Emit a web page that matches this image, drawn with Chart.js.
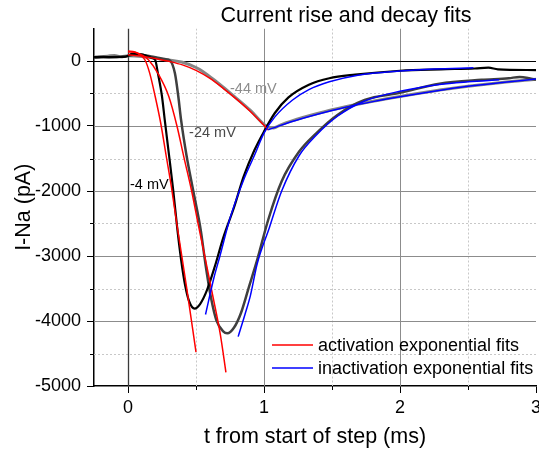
<!DOCTYPE html>
<html>
<head>
<meta charset="utf-8">
<title>Current rise and decay fits</title>
<script src="https://cdn.jsdelivr.net/npm/chart.js@4.4.1/dist/chart.umd.min.js"></script>
<style>
  html, body { margin: 0; padding: 0; background: #fff; }
  canvas { display: block; }
</style>
</head>
<body>
<canvas id="chart" width="539" height="456"></canvas>
<script>
// recorded currents (t in ms, I in pA)
const tTraceM4 = [-0.25, -0.18, -0.1, -0.03, 0, 0.03, 0.08, 0.13, 0.17, 0.2, 0.22, 0.25, 0.27, 0.3, 0.333, 0.363, 0.39, 0.42, 0.45, 0.49, 0.53, 0.58, 0.64, 0.7, 0.78, 0.85, 0.93, 1.0, 1.08, 1.18, 1.33, 1.48, 1.67, 2.0, 2.3, 2.55, 2.65, 2.72, 3.0];
const iTraceM4 = [60, 62, 60, 62, 80, 110, 105, 85, 50, 15, -190, -546, -903, -1420, -2000, -2590, -3050, -3450, -3700, -3810, -3740, -3530, -3150, -2720, -2250, -1780, -1370, -1085, -800, -560, -365, -265, -210, -150, -128, -115, -102, -128, -140];

const tTraceM24 = [-0.25, -0.1, 0, 0.05, 0.1, 0.17, 0.23, 0.27, 0.31, 0.345, 0.37, 0.39, 0.43, 0.48, 0.534, 0.57, 0.61, 0.65, 0.7, 0.73, 0.78, 0.83, 0.89, 0.95, 1.03, 1.13, 1.26, 1.38, 1.54, 1.74, 2.0, 2.29, 2.6, 2.8, 2.88, 2.95, 3.0];
const iTraceM24 = [55, 60, 75, 100, 95, 70, 45, 30, 5, -190, -546, -903, -1450, -2000, -2590, -3130, -3640, -3990, -4160, -4190, -4100, -3880, -3470, -3060, -2450, -1850, -1390, -1120, -830, -600, -490, -350, -290, -265, -245, -265, -290];

const tTraceM44 = [-0.25, -0.15, -0.1, -0.05, 0, 0.1, 0.2, 0.3, 0.4, 0.5, 0.55, 0.65, 0.77, 0.9, 1.0, 1.04, 1.07, 1.12, 1.2, 1.4, 1.6, 1.8, 2.0, 2.25, 2.5, 2.75, 3.0];
const iTraceM44 = [60, 75, 85, 65, 80, 70, 42, 15, -20, -100, -160, -320, -525, -760, -975, -1025, -1030, -985, -925, -805, -705, -620, -545, -460, -390, -330, -282];

// activation fits (red)
const tActM4 = [0, 0.05, 0.09, 0.125, 0.16, 0.2, 0.24, 0.28, 0.32, 0.36, 0.43, 0.5];
const iActM4 = [140, 135, 90, 15, -190, -546, -950, -1450, -1950, -2520, -3470, -4480];
const tActM24 = [0, 0.05, 0.1, 0.15, 0.22, 0.3, 0.36, 0.41, 0.468, 0.517, 0.57, 0.627, 0.68, 0.72];
const iActM24 = [155, 140, 95, 20, -190, -546, -1000, -1470, -2000, -2520, -3060, -3650, -4220, -4790];
const tActM44 = [0, 0.1, 0.2, 0.3, 0.4, 0.5, 0.6, 0.7, 0.8, 0.9, 1.0, 1.03];
const iActM44 = [95, 75, 40, -5, -60, -145, -265, -420, -590, -776, -990, -1060];

// inactivation fits (blue)
const tInactM4 = [0.57, 0.63, 0.676, 0.75, 0.85, 0.93, 1.0, 1.08, 1.21, 1.33, 1.48, 1.69, 2.0, 2.25, 2.54];
const iInactM4 = [-3900, -3350, -3000, -2420, -1830, -1450, -1110, -860, -600, -440, -320, -218, -152, -122, -105];
const tInactM24 = [0.81, 0.86, 0.9, 0.95, 1.04, 1.13, 1.26, 1.38, 1.54, 1.74, 2.0, 2.29, 2.5, 2.73];
const iInactM24 = [-4240, -3900, -3610, -3120, -2560, -2000, -1450, -1150, -850, -615, -465, -360, -320, -290];
const tInactM44 = [1.03, 1.2, 1.4, 1.6, 1.8, 2.0, 2.25, 2.5, 2.75, 3.0];
const iInactM44 = [-1060, -935, -815, -710, -625, -550, -465, -390, -330, -278];

const voltageLabels = ['-4 mV', '-24 mV', '-44 mV'];
const legendLabels = ['activation exponential fits', 'inactivation exponential fits'];
const xTickValues = [0, 1, 2, 3];
const yTickValues = [-5000, -4000, -3000, -2000, -1000, 0];
const xMinorTicks = [0.5, 1.5, 2.5];
const xMajorGrid = [1, 2];
const yMinorTicks = [-4500, -3500, -2500, -1500, -500];
const yMajorGrid = [-4000, -3000, -2000, -1000];

const FONT = "'Liberation Sans', Arial, sans-serif";

function pts(ts, is) {
    return ts.map((t, k) => ({ x: t, y: is[k] }));
}

function series(label, ts, is, color, width, order) {
    return {
        label: label,
        data: pts(ts, is),
        borderColor: color,
        borderWidth: width,
        pointRadius: 0,
        fill: false,
        cubicInterpolationMode: 'monotone',
        order: order
    };
}

const datasets = [
    series('-44 mV', tTraceM44, iTraceM44, '#858585', 3, 6),
    series('-24 mV', tTraceM24, iTraceM24, '#3f3f3f', 2.5, 5),
    series('-4 mV', tTraceM4, iTraceM4, '#000000', 2.2, 4),
    series('act -4', tActM4, iActM4, '#ff0000', 1.5, 2),
    series('act -24', tActM24, iActM24, '#ff0000', 1.5, 2),
    series('act -44', tActM44, iActM44, '#ff0000', 1.5, 2),
    series('inact -4', tInactM4, iInactM4, '#0000ff', 1.5, 1),
    series('inact -24', tInactM24, iInactM24, '#0000ff', 1.5, 1),
    series('inact -44', tInactM44, iInactM44, '#0000ff', 1.5, 1)
];

function strokeLine(ctx, x1, y1, x2, y2) {
    ctx.beginPath();
    ctx.moveTo(x1, y1);
    ctx.lineTo(x2, y2);
    ctx.stroke();
}

// grid, zero lines, minor ticks, labels, legend and title
const decorPlugin = {
    id: 'decor',
    beforeDatasetsDraw(chart) {
        const { ctx, chartArea: a, scales: { x, y } } = chart;
        ctx.save();
        ctx.beginPath();
        ctx.rect(a.left, a.top, a.right - a.left, a.bottom - a.top);
        ctx.clip();
        ctx.lineWidth = 1;

        ctx.strokeStyle = '#c8c8c8';
        ctx.setLineDash([2, 2]);
        xMinorTicks.forEach(v => {
            const px = Math.round(x.getPixelForValue(v)) + 0.5;
            strokeLine(ctx, px, a.top, px, a.bottom);
        });
        yMinorTicks.forEach(v => {
            const py = Math.round(y.getPixelForValue(v)) + 0.5;
            strokeLine(ctx, a.left, py, a.right, py);
        });

        ctx.setLineDash([]);
        ctx.strokeStyle = '#8c8c8c';
        xMajorGrid.forEach(v => {
            const px = Math.round(x.getPixelForValue(v)) + 0.5;
            strokeLine(ctx, px, a.top, px, a.bottom);
        });
        yMajorGrid.forEach(v => {
            const py = Math.round(y.getPixelForValue(v)) + 0.5;
            strokeLine(ctx, a.left, py, a.right, py);
        });

        // zero lines
        ctx.strokeStyle = '#3a3a3a';
        ctx.lineWidth = 1.3;
        const x0 = Math.round(x.getPixelForValue(0)) + 0.5;
        strokeLine(ctx, x0, a.top, x0, a.bottom);
        ctx.strokeStyle = '#000';
        ctx.lineWidth = 1.2;
        const y0 = Math.round(y.getPixelForValue(0)) + 0.5;
        strokeLine(ctx, a.left, y0, a.right, y0);
        ctx.restore();
    },
    afterDraw(chart) {
        const { ctx, chartArea: a, scales: { x, y } } = chart;
        ctx.save();

        // minor tick marks
        ctx.strokeStyle = '#000';
        ctx.lineWidth = 1;
        xMinorTicks.forEach(v => {
            const px = Math.round(x.getPixelForValue(v)) + 0.5;
            strokeLine(ctx, px, a.bottom, px, a.bottom + 4);
        });
        yMinorTicks.forEach(v => {
            const py = Math.round(y.getPixelForValue(v)) + 0.5;
            strokeLine(ctx, a.left - 4, py, a.left, py);
        });

        // voltage labels
        ctx.font = '14.5px ' + FONT;
        ctx.textAlign = 'left';
        ctx.textBaseline = 'middle';
        ctx.fillStyle = '#000';
        ctx.fillText(voltageLabels[0], x.getPixelForValue(0.015), y.getPixelForValue(-1900));
        ctx.fillStyle = '#4a4a4a';
        ctx.fillText(voltageLabels[1], x.getPixelForValue(0.449), y.getPixelForValue(-1103));
        ctx.fillStyle = '#8c8c8c';
        ctx.fillText(voltageLabels[2], x.getPixelForValue(0.75), y.getPixelForValue(-429));

        // legend
        const legendColors = ['#ff0000', '#0000ff'];
        ctx.font = '18px ' + FONT;
        ctx.fillStyle = '#000';
        legendLabels.forEach((txt, k) => {
            const ly = a.top + 316.5 + k * 23;
            ctx.strokeStyle = legendColors[k];
            ctx.lineWidth = 1.5;
            strokeLine(ctx, a.right - 264, ly, a.right - 223, ly);
            ctx.fillText(txt, a.right - 218, ly + 1);
        });

        // title
        ctx.font = '21.5px ' + FONT;
        ctx.textAlign = 'center';
        ctx.fillText('Current rise and decay fits', 346, 16);
        ctx.restore();
    }
};

const ctx = document.getElementById('chart').getContext('2d');
const chart = new Chart(ctx, {
    type: 'line',
    data: { datasets: datasets },
    options: {
        responsive: false,
        animation: false,
        layout: { padding: { top: 28.5, right: 3, left: 0, bottom: 0 } },
        plugins: {
            legend: { display: false },
            tooltip: { enabled: false },
            title: { display: false }
        },
        scales: {
            x: {
                type: 'linear',
                min: -0.25,
                max: 3,
                afterBuildTicks(scale) {
                    scale.ticks = xTickValues.map(v => ({ value: v }));
                },
                ticks: {
                    maxRotation: 0,
                    autoSkip: false,
                    padding: 4,
                    color: '#000',
                    font: { family: FONT, size: 18 },
                    callback: v => String(v)
                },
                grid: { drawOnChartArea: false, tickLength: 7, tickColor: '#000', tickWidth: 1 },
                border: { color: '#000', width: 1.5 },
                title: {
                    display: true,
                    text: 't from start of step (ms)',
                    color: '#000',
                    font: { family: FONT, size: 21.5 },
                    padding: { top: 0, bottom: 6 }
                },
                afterFit(scale) {
                    scale.height = 70;
                    scale.paddingLeft = 0;
                    scale.paddingRight = 0;
                }
            },
            y: {
                type: 'linear',
                min: -5000,
                max: 500,
                afterBuildTicks(scale) {
                    scale.ticks = yTickValues.map(v => ({ value: v }));
                },
                ticks: {
                    autoSkip: false,
                    padding: 6,
                    color: '#000',
                    font: { family: FONT, size: 18 },
                    callback: v => String(v)
                },
                grid: { drawOnChartArea: false, tickLength: 7, tickColor: '#000', tickWidth: 1 },
                border: { color: '#000', width: 1.5 },
                title: {
                    display: true,
                    text: 'I-Na (pA)',
                    color: '#000',
                    font: { family: FONT, size: 21.5 },
                    padding: { top: 11, bottom: 0 }
                },
                afterFit(scale) {
                    scale.width = 94;
                    scale.paddingTop = 0;
                    scale.paddingBottom = 0;
                }
            }
        }
    },
    plugins: [decorPlugin]
});
</script>
</body>
</html>
